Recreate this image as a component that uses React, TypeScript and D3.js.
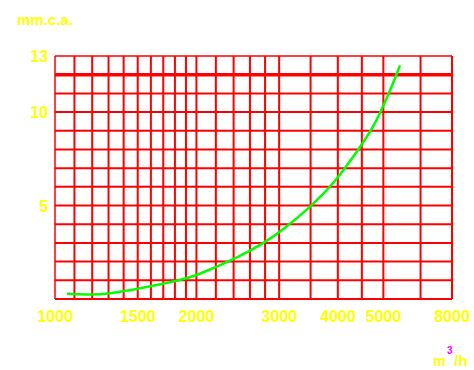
import React from "react";
import * as d3 from "d3";

const xGridValues = [1000, 1100, 1200, 1300, 1400, 1500, 1600, 1700, 1800, 1900, 2000, 2200, 2400, 2600, 2800, 3000, 3500, 4000, 4500, 5000, 6000, 7000];
const yGridValues = [0, 1, 2, 3, 4, 5, 6, 7, 8, 9, 10, 11, 12, 13];
const xTickValues = [1000, 1500, 2000, 3000, 4000, 5000, 7000];
const xTickLabels = ["1000", "1500", "2000", "3000", "4000", "5000", "8000"];
const yTickValues = [13, 10, 5];
const yTickLabels = ["13", "10", "5"];
const flowValues = [1060, 1200, 1290, 1515, 1870, 1985, 2475, 2785, 3000, 3490, 3945, 4460, 4760, 4966, 5190, 5425];
const pressureValues = [0.28, 0.23, 0.27, 0.55, 1.04, 1.22, 2.26, 3.01, 3.55, 4.89, 6.24, 8.12, 9.19, 10.18, 11.25, 12.5];

const W = 474;
const H = 370;
const left = 55;
const right = 452;
const top = 56;
const bottom = 299;

export default function App() {
  const x = d3.scaleLog().domain([1000, 7000]).range([left, right]);
  const y = d3.scaleLinear().domain([0, 13]).range([bottom, top]);
  const pts: [number, number][] = flowValues.map((f, i) => [x(f), y(pressureValues[i])]);
  const line = d3.line().curve(d3.curveBasis)(pts) || "";
  const font = "'Liberation Sans', Arial, sans-serif";
  return (
    <svg width={W} height={H} style={{ position: "absolute", left: 0, top: 0, background: "#fff" }}>
      <rect x={0} y={0} width={W} height={H} fill="#fff" />
      {yGridValues.map((v) => (
        <line key={"h" + v} x1={left} x2={right} y1={y(v)} y2={y(v)} stroke="#ff0000"
          strokeWidth={v === 12 ? 3.5 : v === 13 ? 1.5 : 2} />
      ))}
      {xGridValues.map((v) => (
        <line key={"v" + v} x1={x(v)} x2={x(v)} y1={top} y2={bottom} stroke="#ff0000"
          strokeWidth={v === 1000 ? 1.5 : 2} />
      ))}
      <path d={line} fill="none" stroke="#00ff00" strokeWidth={2.5} />
      {xTickValues.map((v, i) => (
        <text key={"xt" + v} x={x(v)} y={322} textAnchor="middle" fill="#ffff00"
          fontFamily={font} fontWeight="bold" fontSize={16}>{xTickLabels[i]}</text>
      ))}
      {yTickValues.map((v, i) => (
        <text key={"yt" + v} x={48} y={y(v) + 6} textAnchor="end" fill="#ffff00"
          fontFamily={font} fontWeight="bold" fontSize={16}>{yTickLabels[i]}</text>
      ))}
      <text x={17} y={25} fill="#ffff00" fontFamily={font} fontWeight="bold" fontSize={15}>mm.c.a.</text>
      <text x={433} y={366} fill="#ffff00" fontFamily={font} fontWeight="bold" fontSize={14}>m</text>
      <text x={447} y={354} fill="#ff00ff" fontFamily={font} fontWeight="bold" fontSize={10}>3</text>
      <text x={454} y={366} fill="#ffff00" fontFamily={font} fontWeight="bold" fontSize={15}>/h</text>
    </svg>
  );
}
